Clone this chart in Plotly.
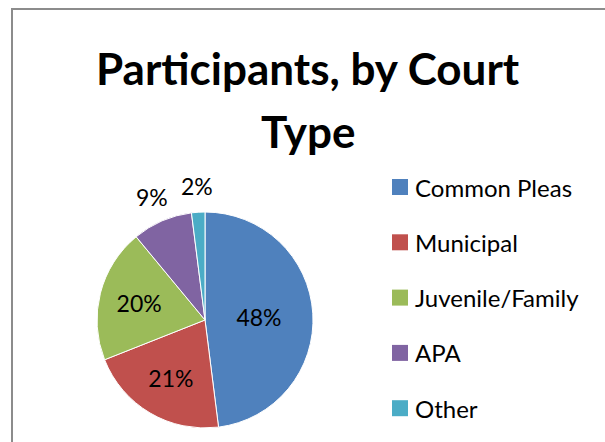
"""
Participants by court type - pie chart
"""

import math

import plotly.graph_objects as go


# ==============================
# Data
# ==============================

court_types = ["Common Pleas", "Municipal", "Juvenile/Family", "APA", "Other"]
participant_share = [48, 21, 20, 9, 2]
slice_colors = ["#4F81BD", "#C0504D", "#9BBB59", "#8064A2", "#4BACC6"]
outside_label = [False, False, False, True, True]

W, H = 605, 442
FONT = "Lato"

# pie geometry in pixels
CX, CY, R = 205, 320, 108
R_OUT = 134


def px_x(x):
    return x / W


def px_y(y):
    return 1 - y / H


# ==============================
# Pie
# ==============================

fig = go.Figure(
    go.Pie(
        labels=court_types,
        values=participant_share,
        sort=False,
        direction="clockwise",
        rotation=0,
        marker=dict(colors=slice_colors, line=dict(color="white", width=1)),
        texttemplate=["" if o else "%{percent:.0%}" for o in outside_label],
        textposition="inside",
        insidetextorientation="horizontal",
        textfont=dict(family=FONT, size=23, color="black"),
        showlegend=False,
        hoverinfo="label+percent",
        domain=dict(x=[px_x(CX - R), px_x(CX + R)], y=[px_y(CY + R), px_y(CY - R)]),
    )
)

# ==============================
# Title, small-slice labels, legend
# ==============================

annotations = [
    dict(text="<b>Participants, by Court</b>", x=px_x(307.5), y=px_y(68),
         font=dict(family=FONT, size=44, color="black")),
    dict(text="<b>Type</b>", x=px_x(307.5), y=px_y(131),
         font=dict(family=FONT, size=44, color="black")),
]

# outside labels for the thin slices, placed along each slice's mid angle
total = sum(participant_share)
cum = 0
for v, out in zip(participant_share, outside_label):
    mid = 2 * math.pi * (cum + v / 2) / total
    cum += v
    if not out:
        continue
    annotations.append(dict(
        text=f"{round(100 * v / total)}%",
        x=px_x(CX + R_OUT * math.sin(mid)), y=px_y(CY - R_OUT * math.cos(mid)),
        font=dict(family=FONT, size=23, color="black"),
    ))

shapes = [
    dict(type="rect", xref="paper", yref="paper",
         x0=px_x(12), x1=1.05, y0=-0.05, y1=px_y(9),
         line=dict(color="#8c8c8c", width=2), fillcolor="rgba(0,0,0,0)"),
]

legend_top, legend_step = 187, 55.3
for i, (name, col) in enumerate(zip(court_types, slice_colors)):
    yc = legend_top + i * legend_step
    shapes.append(dict(type="rect", xref="paper", yref="paper",
                       x0=px_x(392), x1=px_x(408), y0=px_y(yc + 8), y1=px_y(yc - 8),
                       line=dict(width=0), fillcolor=col))
    annotations.append(dict(text=name, x=px_x(413), y=px_y(yc), xanchor="left",
                            font=dict(family=FONT, size=24, color="black")))

for a in annotations:
    a.update(xref="paper", yref="paper", showarrow=False)
    a.setdefault("xanchor", "center")
    a.setdefault("yanchor", "middle")

fig.update_layout(
    width=W,
    height=H,
    margin=dict(l=0, r=0, t=0, b=0),
    paper_bgcolor="white",
    plot_bgcolor="white",
    annotations=annotations,
    shapes=shapes,
)

# drop the browser's default 8px body margin so the figure sits at (0, 0)
fig.write_html(
    "out.html",
    config={"displayModeBar": False},
    post_script="document.body.style.margin = '0';",
)
